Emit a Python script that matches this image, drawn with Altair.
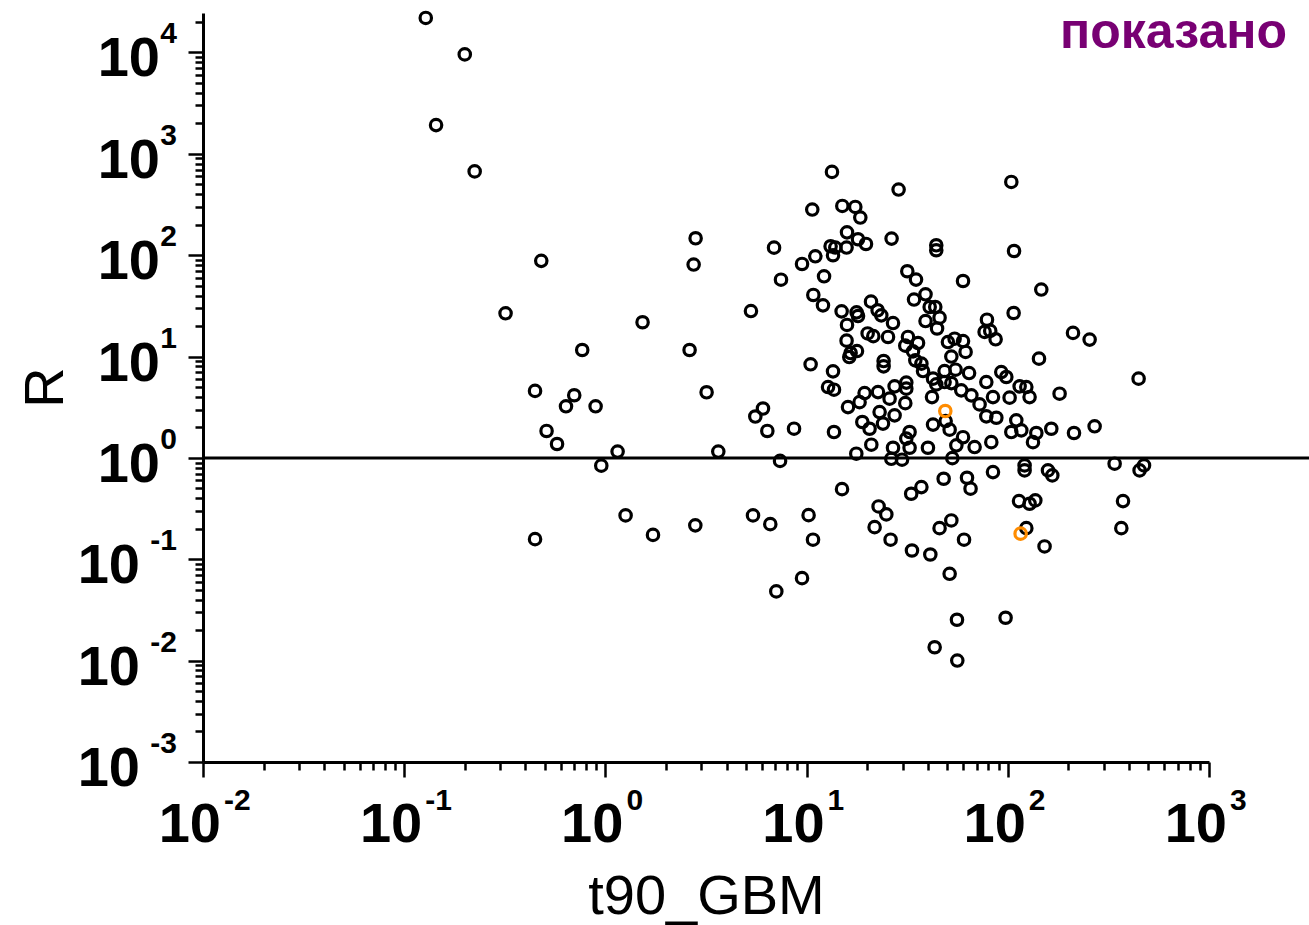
import altair as alt
import pandas as pd

# ---- data ----
t90_black = [
    0.128, 0.200, 0.144, 0.224, 0.480, 0.319, 0.767, 0.447, 0.700, 0.637,
    0.894, 0.510, 0.575, 0.954, 1.150, 1.530, 2.808, 2.745, 2.621, 3.184,
    3.64, 6.89, 7.46, 5.29, 6.07, 5.56, 6.38, 8.66, 7.38, 0.447,
    1.260, 1.724, 2.798, 5.415, 6.60, 7.07, 13.37, 28.66, 10.67, 15.05,
    17.46, 18.49, 15.88, 18.01, 19.73, 26.45, 13.16, 13.89, 13.53, 15.80,
    11.05, 9.49, 12.21, 31.66, 34.98, 10.80, 12.06, 20.90, 34.19, 14.93,
    17.72, 18.01, 22.54, 23.51, 26.88, 15.88, 20.11, 21.45, 25.39, 31.9,
    30.94, 35.8, 15.80, 17.80, 16.55, 16.30, 33.8, 34.7, 37.2, 10.47,
    13.53, 24.14, 24.14, 12.78, 13.68, 27.38, 31.3, 31.3, 19.42, 22.64,
    25.85, 18.34, 16.06, 30.94, 23.06, 27.38, 18.92, 20.56, 23.97, 13.68,
    32.5, 31.3, 20.97, 26.88, 32.5, 17.66, 26.36, 29.8, 37.2, 15.0,
    33.1, 22.8, 24.9, 10.23, 21.78, 10.76, 26.15, 33.4, 9.49, 104.1,
    44.1, 44.1, 107.4, 59.9, 146.7, 39.0, 40.9, 43.6, 45.8, 39.0,
    44.5, 106.9, 78.8, 76.7, 81.8, 87.0, 50.4, 54.4, 59.9, 61.7,
    52.4, 142.9, 37.9, 48.5, 55.0, 64.2, 92.8, 98.3, 78.2, 42.5,
    44.1, 48.5, 52.4, 58.7, 114.5, 123.6, 42.0, 65.9, 84.4, 102.1,
    128.3, 180.9, 72.4, 78.2, 87.7, 42.5, 49.1, 51.4, 59.9, 110.2,
    104.1, 116.7, 138.6, 133.4, 164.5, 82.8, 55.5, 68.4, 40.1, 53.0,
    84.4, 121.2, 121.2, 158.4, 166.4, 48.0, 62.7, 65.3, 113.7, 128.3,
    137.0, 52.4, 45.8, 60.6, 123.6, 152.3, 41.2, 51.4, 55.9, 97.5,
    43.3, 56.1, 210.9, 255.1, 446.8, 213.3, 270.1, 339.6, 451.9, 475.3,
    373.8, 366.6,
]
R_black = [
    21900, 9570, 1920, 671, 87.9, 26.7, 11.6, 4.58, 4.15, 3.23,
    3.23, 1.844, 1.372, 0.839, 1.154, 21.8, 146.8, 80.8, 11.6, 4.44,
    1.154, 118.6, 57.3, 28.1, 3.07, 2.56, 1.844, 1.942, 0.934, 0.158,
    0.271, 0.174, 0.216, 0.271, 0.222, 0.0482, 663, 444, 282, 306,
    299, 235, 168, 143.6, 129.0, 145.8, 122.4, 118.9, 99.8, 118.9,
    97.5, 81.9, 61.9, 69.4, 57.4, 40.5, 32.0, 34.8, 36.5, 27.9,
    27.3, 25.1, 28.6, 25.5, 21.4, 20.5, 16.9, 15.9, 15.6, 15.6,
    12.8, 13.6, 14.35, 11.33, 10.83, 9.89, 11.25, 9.17, 8.51, 8.38,
    7.14, 9.03, 8.0, 5.00, 4.71, 5.08, 5.53, 4.82, 4.36, 4.46,
    3.84, 3.55, 3.17, 3.47, 2.83, 2.63, 2.26, 1.94, 2.18, 1.80,
    1.80, 1.55, 1.35, 1.26, 1.26, 1.10, 0.98, 0.96, 0.515, 0.492,
    0.443, 0.332, 0.277, 0.2725, 0.2074, 0.156, 0.156, 0.122, 0.0651, 528,
    125.2, 111.8, 110.0, 55.6, 45.8, 41.1, 30.8, 30.8, 24.2, 22.4,
    18.9, 26.9, 23.1, 17.5, 17.9, 14.8, 13.9, 15.0, 14.2, 11.1,
    10.0, 9.53, 7.19, 7.19, 7.42, 6.87, 7.03, 6.28, 5.60, 6.05,
    5.31, 5.60, 5.47, 4.64, 5.08, 5.00, 3.98, 4.14, 3.98, 3.93,
    3.98, 4.30, 3.37, 2.57, 2.49, 2.13, 2.31, 1.90, 1.60, 2.35,
    1.80, 1.87, 1.76, 1.43, 1.94, 1.43, 1.33, 1.28, 1.26, 0.995,
    0.724, 0.843, 0.753, 0.753, 0.672, 0.623, 0.637, 0.497, 0.375, 0.353,
    0.381, 0.2415, 0.2028, 0.156, 0.2028, 0.1338, 0.1115, 0.0719, 0.0253, 0.0265,
    0.01356, 0.01002, 17.1, 14.7, 6.05, 1.76, 2.05, 0.877, 0.753, 0.843,
    0.375, 0.2028,
]
t90_orange = [48.9, 115.8]
R_orange = [2.90, 0.179]

x_major = [0.01, 0.1, 1, 10, 100, 1000]
x_exp = ["-2", "-1", "0", "1", "2", "3"]
y_major = [0.001, 0.01, 0.1, 1, 10, 100, 1000, 10000]
y_exp = ["-3", "-2", "-1", "0", "1", "2", "3", "4"]
x_ticks = x_major + [m * 10.0 ** k for k in range(-2, 3) for m in range(2, 10)]
y_ticks = y_major + [m * 10.0 ** k for k in range(-3, 5) for m in range(2, 10) if m * 10.0 ** k < 24500]

ref_value = [1.0]
note = ["показано"]

assert len(t90_black) == len(R_black)

W, H = 1006, 749
FONT = "Liberation Sans"

pts = pd.DataFrame({"t90": t90_black + t90_orange,
                    "R": R_black + R_orange,
                    "grp": ["a"] * len(t90_black) + ["b"] * len(t90_orange)})

xscale = alt.Scale(type="log", domain=[0.01, 1000], nice=False)
yscale = alt.Scale(type="log", domain=[0.001, 24500], nice=False)

major_test = "abs(log(datum.value)/LN10 - round(log(datum.value)/LN10)) < 0.001"

xaxis = alt.Axis(values=x_ticks, labels=False, grid=False,
                 tickSize={"condition": {"test": major_test, "value": 15}, "value": 8},
                 tickWidth=2.5, tickColor="black", domainColor="black", domainWidth=3,
                 title="t90_GBM", titleFont=FONT, titleFontSize=56, titleFontWeight="normal",
                 titleColor="black", titleBaseline="alphabetic", titleY=151, titleX=W / 2,
                 titleAlign="center")
yaxis = alt.Axis(values=y_ticks, labels=False, grid=False,
                 tickSize={"condition": {"test": major_test, "value": 15}, "value": 8},
                 tickWidth=2.5, tickColor="black", domainColor="black", domainWidth=3,
                 title="R", titleFont=FONT, titleFontSize=56, titleFontWeight="normal",
                 titleColor="black", titleBaseline="alphabetic", titleX=-141, titleY=374,
                 titleAlign="center", titleAngle=270)


def X(field):
    return alt.X(field, type="quantitative", scale=xscale, axis=xaxis)


def Y(field):
    return alt.Y(field, type="quantitative", scale=yscale, axis=yaxis)


black = alt.Chart(pts).transform_filter("datum.grp == 'a'").mark_point(
    shape="circle", filled=False, size=130, strokeWidth=3.2, color="black", opacity=1
).encode(x=X("t90"), y=Y("R"))

orange = alt.Chart(pts).transform_filter("datum.grp == 'b'").mark_point(
    shape="circle", filled=False, size=130, strokeWidth=3.2, color="#FF8C00", opacity=1
).encode(x=X("t90"), y=Y("R"))

rule = alt.Chart(pd.DataFrame({"R": ref_value})).mark_rule(
    color="black", strokeWidth=3
).encode(y=Y("R"), x=alt.value(0), x2=alt.value(1106))

xl = pd.DataFrame({"v": x_major, "b": ["10"] * len(x_major), "e": x_exp})
x_base = alt.Chart(xl).mark_text(font=FONT, fontWeight="bold", fontSize=56, align="right",
                                 baseline="alphabetic", dx=18, color="black").encode(
    x=X("v"), y=alt.value(H + 80), text="b:N")
x_sup = alt.Chart(xl).mark_text(font=FONT, fontWeight="bold", fontSize=30, align="left",
                                baseline="alphabetic", dx=21, color="black").encode(
    x=X("v"), y=alt.value(H + 48), text="e:N")

yl = pd.DataFrame({"v": y_major, "b": ["10"] * len(y_major), "e": y_exp,
                   "neg": [e.startswith("-") for e in y_exp]})
y_sup = alt.Chart(yl).mark_text(font=FONT, fontWeight="bold", fontSize=30, align="right",
                                baseline="alphabetic", dy=-9, color="black").encode(
    x=alt.value(-26), y=Y("v"), text="e:N")
y_base_pos = alt.Chart(yl).transform_filter("!datum.neg").mark_text(
    font=FONT, fontWeight="bold", fontSize=56, align="right", baseline="alphabetic",
    dy=24, color="black").encode(
    x=alt.value(-43), y=Y("v"), text="b:N")
y_base_neg = alt.Chart(yl).transform_filter("datum.neg").mark_text(
    font=FONT, fontWeight="bold", fontSize=56, align="right", baseline="alphabetic",
    dy=24, color="black").encode(
    x=alt.value(-63), y=Y("v"), text="b:N")

label = alt.Chart(pd.DataFrame({"t": note})).mark_text(
    font=FONT, fontWeight="bold", fontSize=50, align="right",
    baseline="alphabetic", color="#780073").encode(
    x=alt.value(1084), y=alt.value(35), text="t:N")

chart = alt.layer(black, rule, orange, x_base, x_sup, y_sup, y_base_pos, y_base_neg, label).properties(
    width=W, height=H,
    background="white",
    autosize=alt.AutoSizeParams(type="none"),
    padding={"left": 203, "top": 13, "right": 100, "bottom": 163},
).configure_view(stroke=None)

chart.save("out.html", embed_options={"renderer": "svg", "actions": False})
